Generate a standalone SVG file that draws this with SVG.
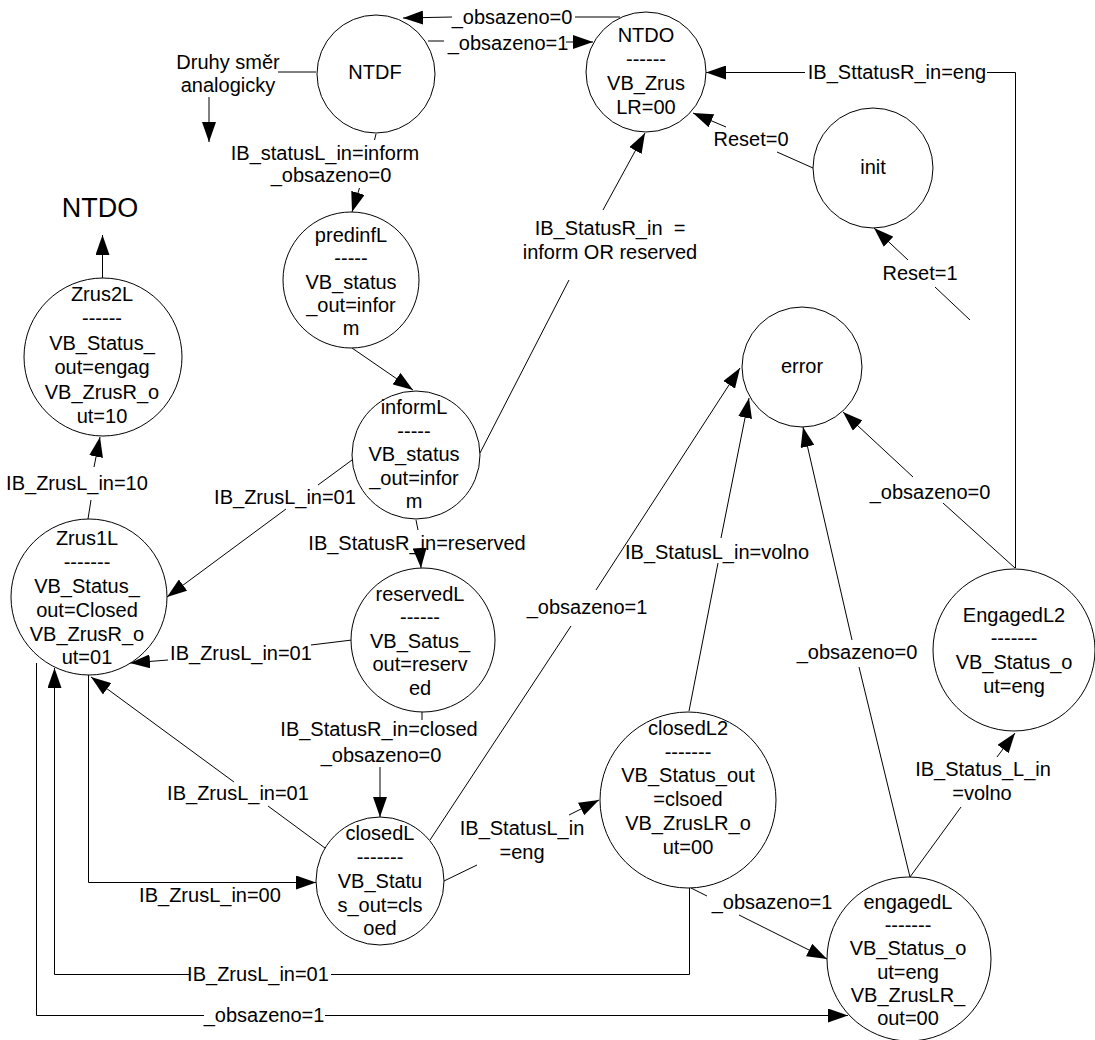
<svg xmlns="http://www.w3.org/2000/svg" width="1095" height="1040" viewBox="0 0 1095 1040">
  <style>
    text { font-family: "Liberation Sans", Arial, sans-serif; font-size: 20px; fill: #000; text-anchor: middle; }
    .st { fill: #fff; stroke: #000; stroke-width: 1; }
    .cn { fill: none; stroke: #000; stroke-width: 1; }
    .big { font-size: 27px; }
    .pre { white-space: pre; }
  </style>
  <defs>
    <marker id="arr" viewBox="0 0 20 14" refX="20" refY="7" markerWidth="20" markerHeight="14" markerUnits="userSpaceOnUse" orient="auto">
      <path d="M0,0 L20,7 L0,14 z" fill="#000"/>
    </marker>
  </defs>
  <rect width="1095" height="1040" fill="#fff"/>

  <!-- transitions -->
  <g id="connectors">
    <path class="cn" d="M620,17 L575,17 M452,17 L403,18" marker-end="url(#arr)"/>
    <path class="cn" d="M428,41 L444,41 M566,42 L593,42" marker-end="url(#arr)"/>
    <path class="cn" d="M278,72 L316,72"/>
    <path class="cn" d="M209,97 L209,142" marker-end="url(#arr)"/>
    <path class="cn" d="M376,134 L374.5,140 M359.5,188 L352,212" marker-end="url(#arr)"/>
    <path class="cn" d="M352,348 L413,390" marker-end="url(#arr)"/>
    <path class="cn" d="M480,453 L569,280 M603,210 L645,133" marker-end="url(#arr)"/>
    <path class="cn" d="M352,460 L318,485 M286,509 L167,597" marker-end="url(#arr)"/>
    <path class="cn" d="M416,520 L418,530 M420,553 L421,568" marker-end="url(#arr)"/>
    <path class="cn" d="M352,640 L311,645 M168,660 L130,663" marker-end="url(#arr)"/>
    <path class="cn" d="M422,712 L422,720 M380,767 L380,817" marker-end="url(#arr)"/>
    <path class="cn" d="M325,848 L268,806 M234,782 L91,677" marker-end="url(#arr)"/>
    <path class="cn" d="M88.5,675 L88.5,882.5 L316,882.5" marker-end="url(#arr)"/>
    <path class="cn" d="M689.5,888 L689.5,974.5 L331,974.5 M189,974.5 L54.5,974.5 L54.5,668" marker-end="url(#arr)"/>
    <path class="cn" d="M36.5,663 L36.5,1015.5 L204,1015.5 M325,1015.5 L848,1015.5" marker-end="url(#arr)"/>
    <path class="cn" d="M444,881 L477,865 M569,815 L599,800" marker-end="url(#arr)"/>
    <path class="cn" d="M430,840 L571,626 M596,590 L740,368" marker-end="url(#arr)"/>
    <path class="cn" d="M689,711 L718,563 M721,538 L749,398" marker-end="url(#arr)"/>
    <path class="cn" d="M691,888 L707,896 M739,915 L827,959" marker-end="url(#arr)"/>
    <path class="cn" d="M910,877 L859,667 M852,640 L803,427" marker-end="url(#arr)"/>
    <path class="cn" d="M910,877 L961,807 M997,757 L1015,733" marker-end="url(#arr)"/>
    <path class="cn" d="M1015,568 L943,503 M913,477 L843,412" marker-end="url(#arr)"/>
    <path class="cn" d="M1015.5,568 L1015.5,72.5 L987,72.5 M805,72.5 L706,72.5" marker-end="url(#arr)"/>
    <path class="cn" d="M813,168 L777,152 M726,127 L693,113" marker-end="url(#arr)"/>
    <path class="cn" d="M970,320 L935,287 M908,260 L874,228" marker-end="url(#arr)"/>
    <path class="cn" d="M102.5,278 L102.5,235" marker-end="url(#arr)"/>
    <path class="cn" d="M88,519 L91,500 M94,467 L100,437" marker-end="url(#arr)"/>
  </g>

  <!-- transition labels -->
  <g id="labels">
    <text x="512" y="24">_obsazeno=0</text>
    <text x="508" y="50">_obsazeno=1</text>
    <text x="325" y="160">IB_statusL_in=inform</text>
    <text x="331" y="182">_obsazeno=0</text>
    <text class="pre" x="610" y="235">IB_StatusR_in  =</text>
    <text x="610" y="259">inform OR reserved</text>
    <text x="285" y="504">IB_ZrusL_in=01</text>
    <text x="417" y="550">IB_StatusR_in=reserved</text>
    <text x="241" y="660">IB_ZrusL_in=01</text>
    <text x="379" y="736">IB_StatusR_in=closed</text>
    <text x="381" y="762">_obsazeno=0</text>
    <text x="238" y="800">IB_ZrusL_in=01</text>
    <text x="210" y="902">IB_ZrusL_in=00</text>
    <text x="258" y="981">IB_ZrusL_in=01</text>
    <text x="264" y="1022">_obsazeno=1</text>
    <text x="522" y="835">IB_StatusL_in</text>
    <text x="522" y="859">=eng</text>
    <text x="587" y="614">_obsazeno=1</text>
    <text x="717" y="559">IB_StatusL_in=volno</text>
    <text x="772" y="909">_obsazeno=1</text>
    <text x="857" y="659">_obsazeno=0</text>
    <text x="983" y="776">IB_Status_L_in</text>
    <text x="982" y="800">=volno</text>
    <text x="930" y="499">_obsazeno=0</text>
    <text x="897" y="79">IB_SttatusR_in=eng</text>
    <text x="751" y="146">Reset=0</text>
    <text x="920" y="280">Reset=1</text>
    <text x="77" y="490">IB_ZrusL_in=10</text>
    <text x="228" y="69">Druhy směr</text>
    <text x="228" y="92">analogicky</text>
    <text class="big" x="100" y="217">NTDO</text>
  </g>

  <!-- states -->
  <g id="NTDF">
    <circle class="st" cx="376" cy="74" r="59"/>
    <text x="375" y="79">NTDF</text>
  </g>
  <g id="NTDO">
    <circle class="st" cx="646" cy="72" r="60"/>
    <text x="646" y="42">NTDO</text>
    <text x="646" y="66">------</text>
    <text x="646" y="90">VB_Zrus</text>
    <text x="646" y="114">LR=00</text>
  </g>
  <g id="init">
    <circle class="st" cx="873" cy="168" r="60"/>
    <text x="873" y="174">init</text>
  </g>
  <g id="error">
    <circle class="st" cx="802" cy="367" r="60"/>
    <text x="802" y="373">error</text>
  </g>
  <g id="Zrus2L">
    <circle class="st" cx="103" cy="357" r="79"/>
    <text x="102" y="301">Zrus2L</text>
    <text x="102" y="325">------</text>
    <text x="102" y="350">VB_Status_</text>
    <text x="102" y="374">out=engag</text>
    <text x="102" y="399">VB_ZrusR_o</text>
    <text x="102" y="423">ut=10</text>
  </g>
  <g id="predinfL">
    <circle class="st" cx="351" cy="280" r="68"/>
    <text x="351" y="242">predinfL</text>
    <text x="351" y="265">-----</text>
    <text x="351" y="289">VB_status</text>
    <text x="351" y="312">_out=infor</text>
    <text x="351" y="335">m</text>
  </g>
  <g id="informL">
    <circle class="st" cx="416" cy="455" r="64"/>
    <text x="414" y="414">informL</text>
    <text x="414" y="438">-----</text>
    <text x="414" y="461">VB_status</text>
    <text x="414" y="485">_out=infor</text>
    <text x="414" y="508">m</text>
  </g>
  <g id="Zrus1L">
    <circle class="st" cx="89" cy="597" r="78"/>
    <text x="87" y="545">Zrus1L</text>
    <text x="87" y="569">-------</text>
    <text x="87" y="593">VB_Status_</text>
    <text x="87" y="617">out=Closed</text>
    <text x="87" y="641">VB_ZrusR_o</text>
    <text x="87" y="664">ut=01</text>
  </g>
  <g id="reservedL">
    <circle class="st" cx="423" cy="640" r="72"/>
    <text x="420" y="601">reservedL</text>
    <text x="420" y="624">------</text>
    <text x="420" y="648">VB_Satus_</text>
    <text x="420" y="671">out=reserv</text>
    <text x="420" y="695">ed</text>
  </g>
  <g id="closedL">
    <circle class="st" cx="380" cy="881" r="64"/>
    <text x="380" y="840">closedL</text>
    <text x="380" y="864">-------</text>
    <text x="380" y="888">VB_Statu</text>
    <text x="380" y="912">s_out=cls</text>
    <text x="380" y="935">oed</text>
  </g>
  <g id="closedL2">
    <circle class="st" cx="688" cy="800" r="88"/>
    <text x="688" y="735">closedL2</text>
    <text x="688" y="759">-------</text>
    <text x="688" y="782">VB_Status_out</text>
    <text x="688" y="806">=clsoed</text>
    <text x="688" y="830">VB_ZrusLR_o</text>
    <text x="688" y="854">ut=00</text>
  </g>
  <g id="engagedL">
    <circle class="st" cx="909" cy="959" r="82"/>
    <text x="908" y="909">engagedL</text>
    <text x="908" y="932">-------</text>
    <text x="908" y="955">VB_Status_o</text>
    <text x="908" y="979">ut=eng</text>
    <text x="908" y="1002">VB_ZrusLR_</text>
    <text x="908" y="1025">out=00</text>
  </g>
  <g id="EngagedL2">
    <circle class="st" cx="1014" cy="650" r="81"/>
    <text x="1014" y="622">EngagedL2</text>
    <text x="1014" y="645">-------</text>
    <text x="1014" y="669">VB_Status_o</text>
    <text x="1014" y="693">ut=eng</text>
  </g>
</svg>
